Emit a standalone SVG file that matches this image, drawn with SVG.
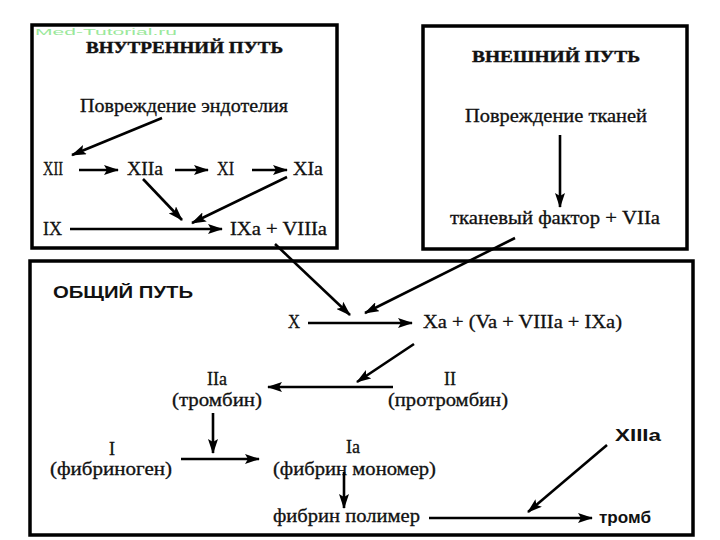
<svg xmlns="http://www.w3.org/2000/svg" width="720" height="540" viewBox="0 0 720 540">
<defs>
<marker id="ah" markerWidth="15" markerHeight="10" refX="14" refY="5" orient="auto" markerUnits="userSpaceOnUse">
<path d="M0,0 L15,5 L0,10 L3,5 z" fill="#000"/>
</marker>
<style>
.box{fill:#fff;stroke:#000;stroke-width:3.5}
.t{font-family:"Liberation Serif","Times New Roman",serif;font-size:18px;fill:#111;stroke:#111;stroke-width:0.3}
.h{font-family:"Liberation Serif","Times New Roman",serif;font-size:16px;font-weight:bold;fill:#111;stroke:#111;stroke-width:0.4}
.hs{font-family:"Liberation Sans",Arial,sans-serif;font-size:16px;font-weight:bold;fill:#111}
.c{text-anchor:middle}
.a{stroke:#000;stroke-width:2.6;fill:none;marker-end:url(#ah)}
.wm{font-family:"Liberation Sans",Arial,sans-serif;font-size:9px;fill:#9be89b}
</style>
</defs>
<rect width="720" height="540" fill="#fff"/>
<g id="intrinsic">
<rect class="box" x="32" y="25" width="305" height="223"/>
<text class="wm" x="35" y="35" textLength="142" lengthAdjust="spacingAndGlyphs">Med-Tutorial.ru</text>
<text class="h" x="86" y="53" textLength="197" lengthAdjust="spacingAndGlyphs">ВНУТРЕННИЙ ПУТЬ</text>
</g>
<g id="endothelium"><text class="t" x="80" y="112" textLength="208" lengthAdjust="spacingAndGlyphs">Повреждение эндотелия</text></g>
<g id="XII"><text class="t" x="43" y="175" textLength="20" lengthAdjust="spacingAndGlyphs">XII</text></g>
<g id="XIIa"><text class="t" x="127" y="175" textLength="36" lengthAdjust="spacingAndGlyphs">XIIa</text></g>
<g id="XI"><text class="t" x="217" y="175" textLength="17" lengthAdjust="spacingAndGlyphs">XI</text></g>
<g id="XIa"><text class="t" x="293" y="175" textLength="30" lengthAdjust="spacingAndGlyphs">XIa</text></g>
<g id="IX"><text class="t" x="43" y="235" textLength="19" lengthAdjust="spacingAndGlyphs">IX</text></g>
<g id="IXa"><text class="t" x="230" y="235" textLength="97" lengthAdjust="spacingAndGlyphs">IXa + VIIIa</text></g>
<g id="extrinsic">
<rect class="box" x="423" y="26" width="264" height="223"/>
<text class="h" x="472" y="62" textLength="168" lengthAdjust="spacingAndGlyphs">ВНЕШНИЙ ПУТЬ</text>
</g>
<g id="tissue"><text class="t" x="465" y="122" textLength="182" lengthAdjust="spacingAndGlyphs">Повреждение тканей</text></g>
<g id="TF"><text class="t" x="450" y="224" textLength="210" lengthAdjust="spacingAndGlyphs">тканевый фактор + VIIa</text></g>
<g id="common">
<rect class="box" x="30" y="261" width="663" height="274"/>
<text class="hs" x="53" y="298" textLength="140" lengthAdjust="spacingAndGlyphs">ОБЩИЙ ПУТЬ</text>
</g>
<g id="X"><text class="t" x="288" y="328" textLength="12" lengthAdjust="spacingAndGlyphs">X</text></g>
<g id="Xa"><text class="t" x="423" y="328" textLength="199" lengthAdjust="spacingAndGlyphs">Xa + (Va + VIIIa + IXa)</text></g>
<g id="II"><text class="t c" x="450" y="385">II</text><text class="t" x="388" y="406" textLength="120" lengthAdjust="spacingAndGlyphs">(протромбин)</text></g>
<g id="IIa"><text class="t c" x="217" y="385">IIa</text><text class="t" x="172" y="406" textLength="90" lengthAdjust="spacingAndGlyphs">(тромбин)</text></g>
<g id="I"><text class="t c" x="112" y="455">I</text><text class="t" x="50" y="475" textLength="122" lengthAdjust="spacingAndGlyphs">(фибриноген)</text></g>
<g id="Ia"><text class="t c" x="353" y="453">Ia</text><text class="t" x="273" y="475" textLength="163" lengthAdjust="spacingAndGlyphs">(фибрин мономер)</text></g>
<g id="polymer"><text class="t" x="273" y="522" textLength="147" lengthAdjust="spacingAndGlyphs">фибрин полимер</text></g>
<g id="thrombus"><text class="hs" x="599" y="523" textLength="52" lengthAdjust="spacingAndGlyphs">тромб</text></g>
<g id="XIIIa"><text class="hs" x="615" y="441" textLength="46" lengthAdjust="spacingAndGlyphs">XIIIa</text></g>
<g id="connectors">
<line class="a" x1="162" y1="118" x2="72" y2="155"/>
<line class="a" x1="79" y1="170" x2="118" y2="170"/>
<line class="a" x1="175" y1="170" x2="208" y2="170"/>
<line class="a" x1="252" y1="170" x2="287" y2="170"/>
<line class="a" x1="143" y1="179" x2="182" y2="220"/>
<line class="a" x1="287" y1="177" x2="192" y2="223"/>
<line class="a" x1="70" y1="229" x2="222" y2="229"/>
<line class="a" x1="560" y1="135" x2="560" y2="207"/>
<line class="a" x1="275" y1="244" x2="350" y2="315"/>
<line class="a" x1="515" y1="238" x2="365" y2="313"/>
<line class="a" x1="308" y1="323" x2="412" y2="323" stroke-width="2"/>
<line class="a" x1="414" y1="344" x2="357" y2="382"/>
<line class="a" x1="393" y1="387" x2="268" y2="387"/>
<line class="a" x1="213" y1="413" x2="213" y2="453"/>
<line class="a" x1="181" y1="459" x2="259" y2="459"/>
<line class="a" x1="344" y1="472" x2="344" y2="508"/>
<line class="a" x1="429" y1="518" x2="592" y2="518"/>
<line class="a" x1="607" y1="445" x2="528" y2="512"/>
</g>
</svg>
